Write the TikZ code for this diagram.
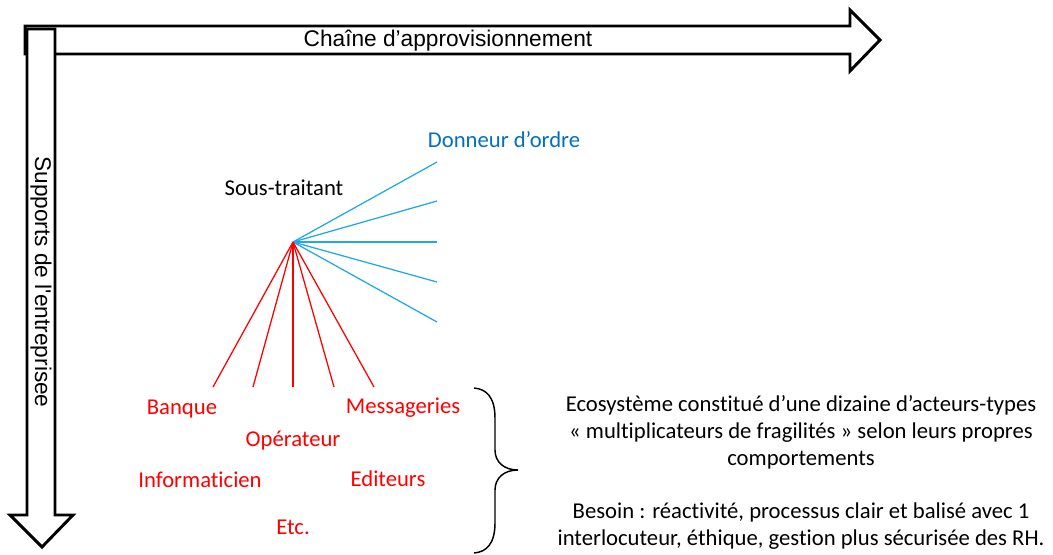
\documentclass[tikz,border=0pt]{standalone}
\usepackage{fontspec}
\setmainfont{Carlito}[Ligatures={TeX,NoCommon}]
\newfontfamily\arialfont{Liberation Sans}
\usetikzlibrary{positioning}
\definecolor{ordre}{HTML}{0070C0}
\definecolor{lienbleu}{HTML}{22A8E6}
\definecolor{acteur}{HTML}{FF0000}

\begin{document}
\begin{tikzpicture}[
  x=0.75pt, y=-0.75pt,
  every node/.style={font=\fontsize{17}{20.25}\selectfont, inner sep=0pt},
  bigarrow/.style={draw=black, fill=white, line width=2.2pt, line join=miter},
  axislbl/.style={font=\arialfont\fontsize{17}{20}\selectfont},
  actor/.style={text=acteur},
  note/.style={align=center, text=black},
  tolink/.style={lienbleu, line width=0.95pt},
  aclink/.style={acteur, line width=0.95pt},
  accolade/.style={draw=black, line width=1.1pt},
]
  \useasboundingbox (0,0) rectangle (1053,554);

  % Big arrows: supply chain (horizontal), company support (vertical)
  \draw[bigarrow] (25,26) -- (850,26) -- (850,10) -- (880,40) -- (850,71)
    -- (850,54) -- (25,54) -- cycle;
  \draw[bigarrow] (27,29) -- (55,29) -- (55,515) -- (73,515) -- (42,547)
    -- (10,515) -- (27,515) -- cycle;
  \node[axislbl] (chaine) at (448,41) {Chaîne d’approvisionnement};
  \node[axislbl, rotate=-90]
    (supports) at (41,282) {Supports de l{\char"0027}entreprisee};

  % Fan around the subcontractor
  \coordinate (hub) at (293,242);
  \node (sous)    at (284,188) {Sous-traitant};
  \node[text=ordre] (donneur) at (504,140) {Donneur d’ordre};

  \coordinate (do1) at (437,162);
  \coordinate (do2) at (437,201);
  \coordinate (do3) at (437,242);
  \coordinate (do4) at (437,282);
  \coordinate (do5) at (437,322);
  \draw[tolink] (hub) -- (do1);
  \draw[tolink] (hub) -- (do2);
  \draw[tolink] (hub) -- (do3);
  \draw[tolink] (hub) -- (do4);
  \draw[tolink] (hub) -- (do5);

  \coordinate (ac1) at (213,387);
  \coordinate (ac2) at (253,387);
  \coordinate (ac3) at (293,387);
  \coordinate (ac4) at (334,387);
  \coordinate (ac5) at (374,387);
  \draw[aclink] (hub) -- (ac1);
  \draw[aclink] (hub) -- (ac2);
  \draw[aclink] (hub) -- (ac3);
  \draw[aclink] (hub) -- (ac4);
  \draw[aclink] (hub) -- (ac5);

  % Actor types
  \node[actor] (banque)   at (182,409) {Banque};
  \node[actor] (messag)   at (403,408) {Messageries};
  \node[actor] (operat)   at (293,441) {Opérateur};
  \node[actor] (informa)  at (200,480) {Informaticien};
  \node[actor] (editeurs) at (388,479) {Editeurs};
  \node[actor] (etc)      at (293,527) {Etc.};

  % Brace and comments
  \draw[accolade] (474,388) .. controls (487,389) and (495,398) .. (495,418)
    -- (495,450) .. controls (495,462) and (504,470) .. (518,470)
    .. controls (504,470) and (495,478) .. (495,490)
    -- (495,523) .. controls (495,543) and (487,552) .. (474,553);
  \node[note] (ecosys) at (801,432)
    {Ecosystème constitué d’une dizaine d’acteurs-types\\
     « multiplicateurs de fragilités » selon leurs propres\\
     comportements};
  \node[note] (besoin) at (801,526)
    {Besoin : réactivité, processus clair et balisé avec 1\\
     interlocuteur, éthique, gestion plus sécurisée des RH.};
\end{tikzpicture}
\end{document}
